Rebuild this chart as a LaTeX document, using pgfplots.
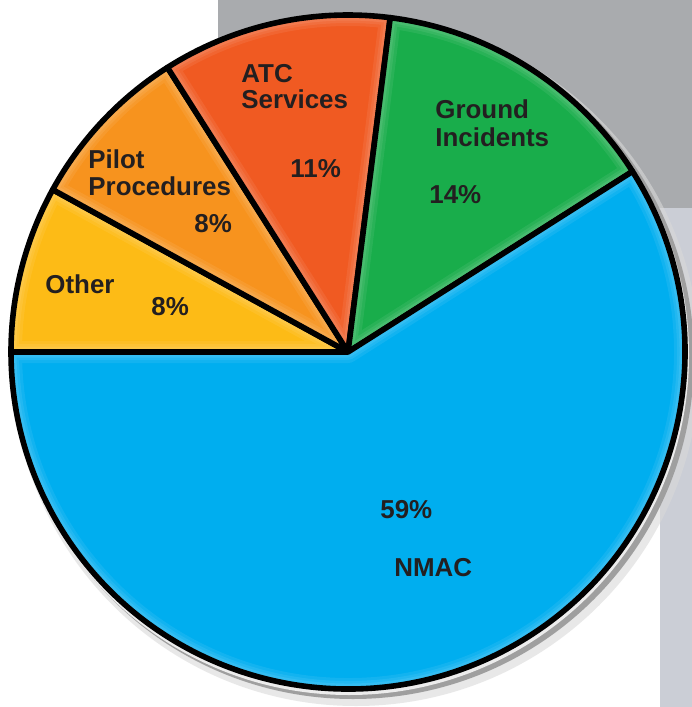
\documentclass[border=0pt]{standalone}
\usepackage{pgfplots}
\usepackage{pgfplotstable}
\pgfplotsset{compat=1.18}
\usepackage{fontspec}
\setmainfont{Liberation Sans}
\definecolor{cNMAC}{HTML}{00AEEF}
\definecolor{cGround}{HTML}{19AD4B}
\definecolor{cATC}{HTML}{F05A22}
\definecolor{cPilot}{HTML}{F7931E}
\definecolor{cOther}{HTML}{FDBB16}
\definecolor{bgGray}{HTML}{A9ABAE}
\definecolor{bgLight}{HTML}{CBCED6}
\definecolor{txt}{HTML}{231F20}
\tikzset{lbl/.style={font=\bfseries\fontsize{13}{14}\selectfont, text=txt, inner sep=0pt, anchor=base west}}

\pgfplotstableread[col sep=comma]{
label,value,color
Other,8,cOther
Pilot Procedures,8,cPilot
ATC Services,11,cATC
Ground Incidents,14,cGround
NMAC,59,cNMAC
}\piedata

\begin{document}
\begin{tikzpicture}
\begin{axis}[
  scale only axis, width=346bp, height=353.5bp,
  xmin=0, xmax=692, ymin=0, ymax=707, y dir=reverse,
  hide axis, clip=false,
]
\coordinate (BL) at (axis cs:0,707);
\coordinate (TR) at (axis cs:692,0);
% background
\fill[white] (axis cs:0,0) rectangle (axis cs:692,707);
\fill[bgGray] (axis cs:218,0) rectangle (axis cs:692,208);
\fill[bgLight] (axis cs:660,208) rectangle (axis cs:692,707);
% shadow
\fill[gray!30, opacity=0.6] (axis cs:356,362) circle[radius=172bp];
\fill[gray!75] (axis cs:353,358) circle[radius=170.5bp];
\fill[gray!15] (axis cs:349,355) circle[radius=170bp];
% slices
\pgfmathsetmacro\cura{180}
\pgfplotsforeachungrouped \i in {0,...,4}{%
  \pgfplotstablegetelem{\i}{value}\of\piedata \let\sval\pgfplotsretval
  \pgfplotstablegetelem{\i}{color}\of\piedata \let\scol\pgfplotsretval
  \pgfmathsetmacro\nexta{\cura-3.6*\sval}%
  \edef\temp{%
    \noexpand\begin{scope}
    \noexpand\clip (axis cs:348,352) -- ++(\cura:168.5bp) arc[start angle=\cura, end angle=\nexta, radius=168.5bp] -- cycle;
    \noexpand\fill[\scol] (axis cs:0,0) rectangle (axis cs:692,707);
    \noexpand\draw[white, opacity=0.07, line width=11bp, line join=round]
    (axis cs:348,352) -- ++(\cura:168.5bp) arc[start angle=\cura, end angle=\nexta, radius=168.5bp] -- cycle;
    \noexpand\draw[white, opacity=0.07, line width=8bp, line join=round]
    (axis cs:348,352) -- ++(\cura:168.5bp) arc[start angle=\cura, end angle=\nexta, radius=168.5bp] -- cycle;
    \noexpand\draw[white, opacity=0.08, line width=5.5bp, line join=round]
    (axis cs:348,352) -- ++(\cura:168.5bp) arc[start angle=\cura, end angle=\nexta, radius=168.5bp] -- cycle;
    \noexpand\end{scope}
    \noexpand\draw[black, line width=2.8bp, line join=round]
    (axis cs:348,352) -- ++(\cura:168.5bp) arc[start angle=\cura, end angle=\nexta, radius=168.5bp] -- cycle;}%
  \temp
  \global\let\cura\nexta
}
% labels
\node[lbl] at (axis cs:241,82) {ATC};
\node[lbl] at (axis cs:241,108) {Services};
\node[lbl] at (axis cs:290,177) {11\%};
\node[lbl] at (axis cs:435,118) {Ground};
\node[lbl] at (axis cs:435,146) {Incidents};
\node[lbl] at (axis cs:429,203) {14\%};
\node[lbl] at (axis cs:88,168) {Pilot};
\node[lbl] at (axis cs:88,195) {Procedures};
\node[lbl] at (axis cs:194,232) {8\%};
\node[lbl] at (axis cs:45,293) {Other};
\node[lbl] at (axis cs:151,315) {8\%};
\node[lbl] at (axis cs:380,518) {59\%};
\node[lbl] at (axis cs:394,576) {NMAC};
\end{axis}
\pgfresetboundingbox
\path[use as bounding box] (BL) rectangle (TR);
\end{tikzpicture}
\end{document}
